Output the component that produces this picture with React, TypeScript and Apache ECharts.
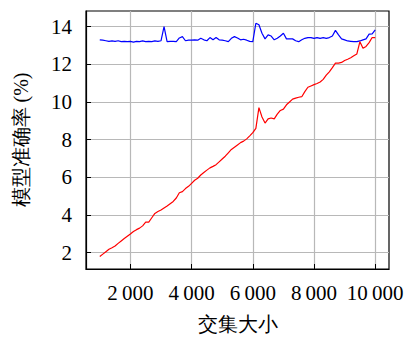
import React, { useEffect, useRef } from "react";
import * as echarts from "echarts";

const xValues: number[] = Array.from({ length: 91 }, (_, i) => 1000 + i * 100);

const blueValues: number[] = [
  13.3, 13.28, 13.25, 13.22, 13.24, 13.22, 13.25, 13.2, 13.22, 13.2,
  13.22, 13.18, 13.22, 13.2, 13.24, 13.2, 13.22, 13.2, 13.24, 13.22,
  13.25, 14.0, 13.2, 13.22, 13.22, 13.2, 13.4, 13.47, 13.25, 13.28,
  13.28, 13.3, 13.28, 13.38, 13.3, 13.25, 13.42, 13.3, 13.42, 13.3,
  13.28, 13.25, 13.2, 13.38, 13.47, 13.4, 13.3, 13.33, 13.28, 13.22,
  13.2, 14.18, 14.1, 13.65, 13.35, 13.56, 13.5, 13.3, 13.38, 13.5,
  13.65, 13.35, 13.35, 13.35, 13.25, 13.2, 13.3, 13.38, 13.42, 13.42,
  13.38, 13.42, 13.38, 13.42, 13.38, 13.42, 13.5, 13.8, 13.56, 13.35,
  13.3, 13.24, 13.22, 13.2, 13.2, 13.24, 13.3, 13.35, 13.6, 13.62,
  13.83,
];

const redValues: number[] = [
  1.79, 1.92, 2.05, 2.18, 2.26, 2.35, 2.49, 2.62, 2.75, 2.87,
  2.99, 3.12, 3.22, 3.3, 3.42, 3.62, 3.62, 3.85, 4.08, 4.18,
  4.26, 4.37, 4.48, 4.6, 4.72, 4.9, 5.18, 5.24, 5.4, 5.52,
  5.68, 5.84, 5.95, 6.12, 6.25, 6.38, 6.5, 6.58, 6.67, 6.82,
  6.97, 7.12, 7.3, 7.48, 7.6, 7.72, 7.84, 7.92, 8.04, 8.2,
  8.37, 8.6, 9.7, 9.2, 8.88, 9.1, 9.15, 9.1, 9.35, 9.55,
  9.62, 9.85, 10.0, 10.15, 10.2, 10.25, 10.28, 10.55, 10.78, 10.85,
  10.92, 10.98, 11.06, 11.2, 11.42, 11.6, 11.82, 12.06, 12.06, 12.1,
  12.2, 12.27, 12.35, 12.45, 12.55, 13.2, 12.85, 12.95, 13.15, 13.42,
  13.42,
];

const xTickValues: number[] = [2000, 4000, 6000, 8000, 10000];
const xTickLabels: string[] = ["2\u2009000", "4\u2009000", "6\u2009000", "8\u2009000", "10\u2009000"];
const yTickValues: number[] = [2, 4, 6, 8, 10, 12, 14];
const yTickLabels: string[] = ["2", "4", "6", "8", "10", "12", "14"];

const xName = "交集大小";
const yName = "模型准确率 (%)";

const serif = "Liberation Serif, serif";

export default function App() {
  const ref = useRef<HTMLDivElement>(null);
  useEffect(() => {
    if (!ref.current) return;
    const chart = echarts.init(ref.current, null, { renderer: "svg" });
    const blue = xValues.map((x, i) => [x, blueValues[i]]);
    const red = xValues.map((x, i) => [x, redValues[i]]);
    chart.setOption({
      animation: false,
      backgroundColor: "#ffffff",
      textStyle: { fontFamily: serif },
      grid: {
        left: 86,
        right: 15,
        top: 11,
        bottom: 71,
        show: true,
        borderColor: "#000000",
        borderWidth: 1.2,
        backgroundColor: "transparent",
        containLabel: false,
        outerBoundsMode: "none",
      },
      xAxis: {
        type: "value",
        min: 550,
        max: 10450,
        name: xName,
        nameLocation: "middle",
        nameGap: 45,
        nameTextStyle: { fontFamily: serif, fontSize: 20, color: "#000" },
        axisLine: { show: true, lineStyle: { color: "#000", width: 1.2 } },
        axisTick: {
          show: true,
          inside: true,
          length: 5,
          customValues: xTickValues,
          lineStyle: { color: "#000", width: 1 },
        },
        axisLabel: {
          customValues: xTickValues,
          margin: 13,
          fontFamily: serif,
          fontSize: 21,
          color: "#000",
          formatter: (v: number) => xTickLabels[xTickValues.indexOf(v)] ?? "",
        },
        splitLine: { show: true, lineStyle: { color: "#b8b8b8", width: 1.2 } },
      },
      yAxis: {
        type: "value",
        min: 1.13,
        max: 14.83,
        name: yName,
        nameLocation: "middle",
        nameRotate: 90,
        nameGap: 55,
        nameTextStyle: { fontFamily: serif, fontSize: 20, color: "#000" },
        axisLine: { show: true, lineStyle: { color: "#000", width: 1.2 } },
        axisTick: {
          show: true,
          inside: true,
          length: 5,
          customValues: yTickValues,
          lineStyle: { color: "#000", width: 1 },
        },
        axisLabel: {
          customValues: yTickValues,
          margin: 14,
          fontFamily: serif,
          fontSize: 21,
          color: "#000",
          formatter: (v: number) => yTickLabels[yTickValues.indexOf(v)] ?? "",
        },
        splitLine: { show: true, lineStyle: { color: "#b8b8b8", width: 1.2 } },
      },
      series: [
        {
          type: "line",
          data: blue,
          showSymbol: false,
          lineStyle: { color: "#0000ff", width: 1.2 },
          itemStyle: { color: "#0000ff" },
          z: 3,
        },
        {
          type: "line",
          data: red,
          showSymbol: false,
          lineStyle: { color: "#ff0000", width: 1.2 },
          itemStyle: { color: "#ff0000" },
          z: 4,
        },
      ],
    });
    return () => chart.dispose();
  }, []);
  return <div ref={ref} style={{ width: 404, height: 340, position: "absolute", left: 0, top: 0 }} />;
}
